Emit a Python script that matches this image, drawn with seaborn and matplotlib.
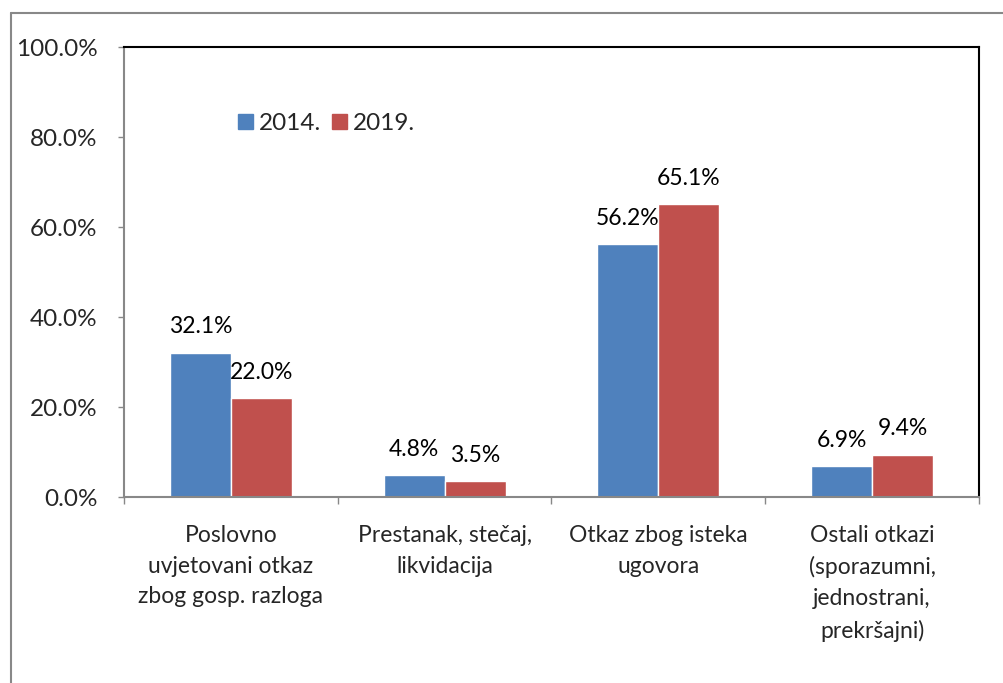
import matplotlib
matplotlib.use("Agg")
import matplotlib.pyplot as plt
import matplotlib.patches as mpatches
import matplotlib.lines as mlines
import pandas as pd
import seaborn as sns

categories = [
    "Poslovno\nuvjetovani otkaz\nzbog gosp. razloga",
    "Prestanak, stečaj,\nlikvidacija",
    "Otkaz zbog isteka\nugovora",
    "Ostali otkazi\n(sporazumni,\njednostrani,\nprekršajni)",
]
years = ["2014.", "2019."]
values_2014 = [32.1, 4.8, 56.2, 6.9]
values_2019 = [22.0, 3.5, 65.1, 9.4]
colors = ["#4F81BD", "#C0504D"]

df = pd.DataFrame({
    "category": categories * 2,
    "year": [years[0]] * 4 + [years[1]] * 4,
    "value": values_2014 + values_2019,
})

sns.set_style("white")
plt.rcParams["font.family"] = ["Lato", "DejaVu Sans"]
plt.rcParams["font.size"] = 16.5

fig = plt.figure(figsize=(10.04, 6.83), dpi=100)
ax = fig.add_axes([124 / 1004, 1 - 497 / 683, (979 - 124) / 1004, (497 - 47) / 683])

sns.barplot(data=df, x="category", y="value", hue="year", palette=colors,
            width=0.57, saturation=1, ax=ax, legend=False)

for cont in ax.containers:
    labels = [f"{v:.1f}%" for v in cont.datavalues]
    ax.bar_label(cont, labels=labels, padding=11, fontsize=16.5, color="#000000")

ax.set_xlim(-0.5, 3.5)
ax.set_ylim(0, 100)
ax.set_yticks([0, 20, 40, 60, 80, 100])
ax.set_yticklabels([f"{t:.1f}%" for t in [0, 20, 40, 60, 80, 100]])
ax.set_xlabel("")
ax.set_ylabel("")
for lbl in ax.get_xticklabels():
    lbl.set_linespacing(1.58)

# category separator ticks on the x axis
ax.set_xticks([-0.5, 0.5, 1.5, 2.5, 3.5], minor=True)
ax.tick_params(axis="x", which="major", length=0, pad=20, labelsize=16.5)
ax.tick_params(axis="x", which="minor", length=5, width=1, color="#888888", direction="out")
ax.tick_params(axis="y", length=4.5, width=1, color="#888888", direction="out", pad=14.4, labelsize=17.5)
ax.tick_params(left=True, bottom=True, which="both")

for side in ["left", "bottom"]:
    ax.spines[side].set_color("#888888")
    ax.spines[side].set_linewidth(1.5)
for side in ["top", "right"]:
    ax.spines[side].set_color("#000000")
    ax.spines[side].set_linewidth(1.5)

handles = [mpatches.Patch(color=c, label=y) for c, y in zip(colors, years)]
ax.legend(handles=handles, loc="center left", bbox_to_anchor=(0.108, 0.83),
          ncol=2, frameon=False, fontsize=17.5, handlelength=0.6, handleheight=0.6,
          handletextpad=0.25, columnspacing=0.45)

# outer chart frame (top and left edges only visible)
fig.add_artist(mlines.Line2D([11 / 1004, 1.0], [1 - 13 / 683, 1 - 13 / 683],
                             transform=fig.transFigure, color="#888888", lw=1.5))
fig.add_artist(mlines.Line2D([11 / 1004, 11 / 1004], [0, 1 - 13 / 683],
                             transform=fig.transFigure, color="#888888", lw=1.5))

fig.savefig("out.png", dpi=100)
plt.close(fig)
